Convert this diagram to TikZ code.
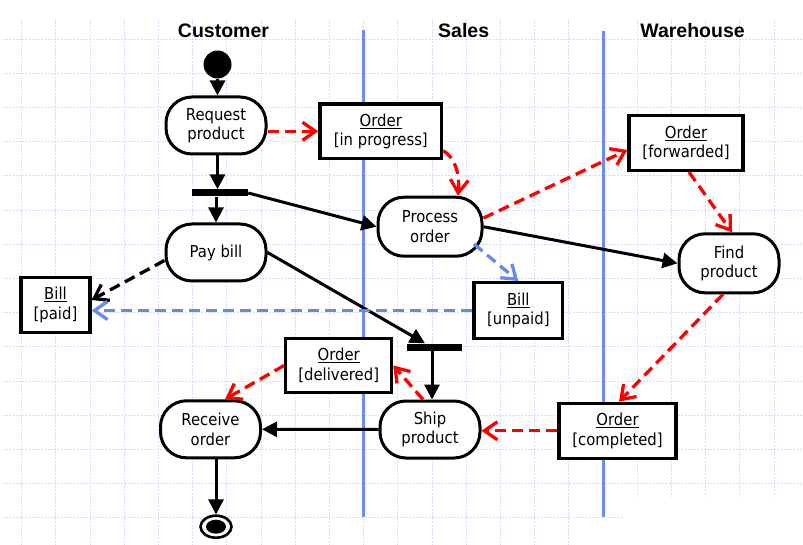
\documentclass[tikz,border=0pt]{standalone}
\usepackage{fontspec}
\setmainfont{DejaVu Sans}[FakeStretch=0.9]
\newfontfamily\hdrfont{Liberation Sans}
\usetikzlibrary{arrows.meta,shapes.geometric}
\definecolor{gridcol}{RGB}{214,222,252}
\definecolor{lanecol}{RGB}{110,140,240}
\definecolor{bluedash}{RGB}{105,135,240}
\definecolor{reddash}{RGB}{255,0,0}
\tikzset{
  gridline/.style={draw=gridcol, line width=0.9pt, dash pattern=on 2pt off 1.2pt},
  lane/.style={draw=lanecol, line width=3pt},
  hdr/.style={font=\hdrfont\bfseries\fontsize{19.5}{22}\selectfont, anchor=base, inner sep=0pt},
  act/.style={draw, line width=3pt, rounded corners=26pt, minimum width=100pt, minimum height=57pt,
    inner sep=0pt, align=center, fill=white, font=\fontsize{16.5}{19.5}\selectfont},
  obj/.style={draw, line width=3.2pt, inner sep=0pt, align=center, fill=white,
    font=\fontsize{16.5}{19.5}\selectfont},
  barnode/.style={fill=black, inner sep=0pt, minimum height=7pt},
  flow/.style={line width=3pt, -{Triangle[length=15pt,width=15pt]}},
  objflow/.style={line width=3.3pt, dash pattern=on 11pt off 6pt, -{Straight Barb[length=13pt,width=18pt]}},
  redflow/.style={objflow, draw=reddash},
  blueflow/.style={objflow, draw=bluedash},
  blackflow/.style={objflow, draw=black},
}
\begin{document}
\begin{tikzpicture}[x=1pt,y=-1pt]
\useasboundingbox[fill=white] (0,0) rectangle (803,545);
% grid
\foreach \i in {0,...,16} \draw[gridline] ({21.7+34.2*\i},19) -- ({21.7+34.2*\i},545);
\foreach \i in {18,...,22} \draw[gridline] ({21.7+34.2*\i},19) -- ({21.7+34.2*\i},497);
\foreach \k in {0,...,13} \draw[gridline] (3,{39+34.2*\k}) -- (803,{39+34.2*\k});
\draw[gridline] (3,517.8) -- (623,517.8);
% lanes
\draw[lane] (363,30) -- (363,517);
\draw[lane] (603,31) -- (603,517);
% headers
\node[hdr] (hC) at (223.5,37.3) {Customer};
\node[hdr] (hS) at (463.7,37.3) {Sales};
\node[hdr] (hW) at (692.5,37.3) {Warehouse};
% start / end
\node[circle, fill=black, minimum size=28pt, inner sep=0pt] (s) at (217.5,64.5) {};
\node[ellipse, draw, line width=2.6pt, fill=white, minimum width=31pt, minimum height=22pt, inner sep=0pt] (e) at (216,526.7) {};
\fill (e.center) ellipse [x radius=10pt, y radius=7pt];
% activities
\node[act] (req) at (216,125.5) {Request\\product};
\node[act] (pay) at (216,252.5) {Pay bill};
\node[act, minimum width=104pt, minimum height=59pt] (proc) at (430,226.7) {Process\\order};
\node[act, minimum height=59pt] (find) at (729,263.3) {Find\\product};
\node[act] (recv) at (210.5,429.3) {Receive\\order};
\node[act] (ship) at (430,429.5) {Ship\\product};
% bars
\node[barnode, minimum width=56pt] (b1) at (220,193) {};
\node[barnode, minimum width=55pt] (b2) at (434,347) {};
% objects
\node[obj, minimum width=121.7pt, minimum height=54.7pt] (oip) at (380.8,131.3) {\underline{Order}\\{}[in progress]};
\node[obj, minimum width=114pt, minimum height=55pt] (ofwd) at (686,143) {\underline{Order}\\{}[forwarded]};
\node[obj, minimum width=69pt, minimum height=55pt] (bpaid) at (55.5,305) {\underline{Bill}\\{}[paid]};
\node[obj, minimum width=88.7pt, minimum height=55.7pt] (bunp) at (518.3,310.5) {\underline{Bill}\\{}[unpaid]};
\node[obj, minimum width=106pt, minimum height=54.4pt] (odel) at (338.7,365.5) {\underline{Order}\\{}[delivered]};
\node[obj, minimum width=117pt, minimum height=55pt] (ocomp) at (617.5,430.8) {\underline{Order}\\{}[completed]};
% control flow
\draw[flow] (s.south) -- (s.south |- req.north);
\draw[flow] (s.south |- req.south) -- (s.south |- b1.north);
\draw[flow] (pay.north |- b1.south) -- (pay.north);
\draw[flow] (b1.east) -- (proc.west);
\draw[flow] (proc.east) -- (find.west);
\draw[flow] (pay.east) -- ([xshift=-9pt]b2.north);
\draw[flow] ([xshift=-2pt]b2.south) -- ([xshift=-2pt]b2.south |- ship.north);
\draw[flow] (ship.west) -- (recv.east);
\draw[flow] (e.north |- recv.south) -- (e.north);
% object flow
\draw[redflow] (req.east |- oip.west) -- (oip.west);
\draw[redflow] ([yshift=-19.4pt]oip.east) .. controls (454,157) and (460,172) .. ([xshift=28pt]proc.north);
\draw[redflow] ([yshift=8.7pt]proc.east) -- ([yshift=-7pt]ofwd.west);
\draw[redflow] ([xshift=3pt]ofwd.south) -- ([xshift=3pt]find.north);
\draw[redflow] ([xshift=-6pt]find.south) -- ([xshift=1.5pt]ocomp.north);
\draw[redflow] (ocomp.west) -- (ocomp.west -| ship.east);
\draw[redflow] ([xshift=-7pt]ship.north) -- (odel.east);
\draw[redflow] (odel.west) -- ([xshift=14.5pt]recv.north);
\draw[blackflow] ([yshift=-8pt]pay.west) -- ([yshift=5pt]bpaid.east);
\draw[blueflow] ([xshift=44pt,yshift=-17.3pt]proc.center) -- (bunp.north);
\draw[blueflow] (bunp.west) -- (bunp.west -| bpaid.east);
\end{tikzpicture}
\end{document}
